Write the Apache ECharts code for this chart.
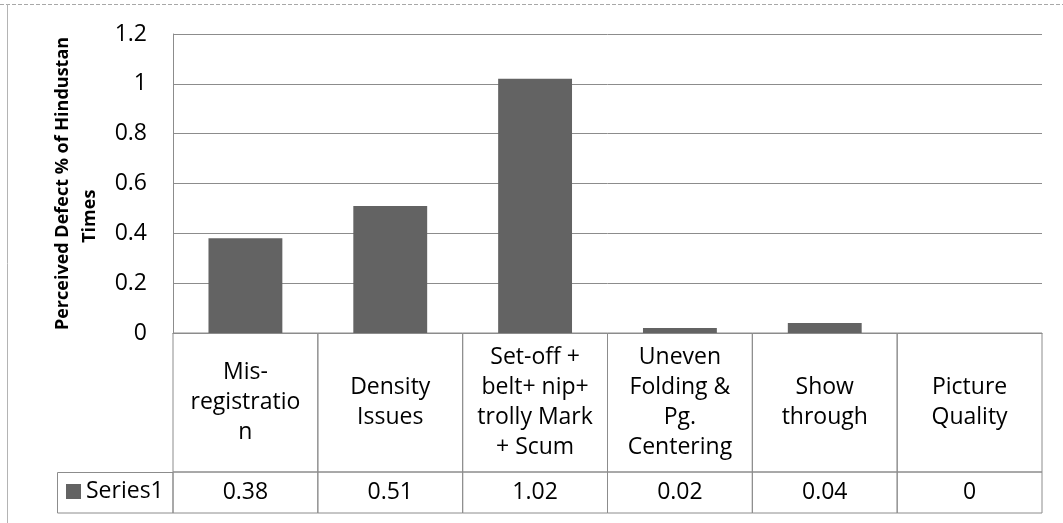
<!DOCTYPE html>
<html><head><meta charset="utf-8">
<script src="https://cdn.jsdelivr.net/npm/echarts@6/dist/echarts.min.js"></script>
<style>html,body{margin:0;padding:0;background:#fff}#c{width:1063px;height:523px}</style>
</head><body><div id="c"></div>
<script>
// ---- data ----
const categories = ['Mis-\nregistratio\nn', 'Density\nIssues', 'Set-off +\nbelt+ nip+\ntrolly Mark\n+ Scum', 'Uneven\nFolding &\nPg.\nCentering', 'Show\nthrough', 'Picture\nQuality'];
const series1 = [0.38, 0.51, 1.02, 0.02, 0.04, 0];
const seriesName = 'Series1';
const yMin = 0, yMax = 1.2, yStep = 0.2;
const axisTitleLines = ['Perceived Defect % of Hindustan', 'Times'];

// ---- style ----
const FONT = 'Open Sans';
const LINE = '#8c8c8c';
const BAR = '#636363';

const chart = echarts.init(document.getElementById('c'), null, {renderer: 'canvas'});

function cellRenderer(texts) {
  return function (params, api) {
    const cs = params.coordSys;
    const i = params.dataIndex;
    const c = api.coord([i, 0]);
    const w = api.size([1, 0])[0];
    return {
      type: 'group',
      children: [
        {type: 'rect', shape: {x: c[0] - w / 2, y: cs.y, width: w, height: cs.height},
         style: {fill: 'transparent', stroke: LINE, lineWidth: 1}},
        {type: 'text', style: {text: String(texts[i]), x: c[0], y: cs.y + cs.height / 2,
         align: 'center', verticalAlign: 'middle', fontSize: 23, fontFamily: FONT, lineHeight: 30, fill: '#000'}}
      ]
    };
  };
}

const grids = [
  {left: 173, right: 21, top: 34, bottom: 190},
  {left: 173, right: 21, top: 333, bottom: 51},
  {left: 173, right: 21, top: 472, bottom: 10}
];

chart.setOption({
  animation: false,
  backgroundColor: '#fff',
  grid: grids,
  legend: {
    data: [seriesName], left: 66, top: 480, padding: 0,
    icon: 'rect', itemWidth: 15, itemHeight: 15, itemGap: 6,
    textStyle: {fontSize: 23, fontFamily: FONT, color: '#000'}
  },
  xAxis: [
    {gridIndex: 0, type: 'category', data: categories, axisTick: {show: false}, axisLabel: {show: false},
     axisLine: {show: true, lineStyle: {color: LINE}}, splitLine: {show: false}},
    {gridIndex: 1, type: 'category', data: categories, show: false},
    {gridIndex: 2, type: 'category', data: categories, show: false}
  ],
  yAxis: [
    {gridIndex: 0, type: 'value', min: yMin, max: yMax, interval: yStep,
     axisLine: {show: true, lineStyle: {color: LINE}}, axisTick: {show: false},
     splitLine: {show: true, lineStyle: {color: LINE, width: 1}},
     axisLabel: {fontSize: 23, fontFamily: FONT, color: '#000', margin: 26},
     name: axisTitleLines[0] + '\n' + axisTitleLines[1] + '\u00a0'.repeat(14),
     nameLocation: 'middle', nameRotate: 90, nameGap: 68,
     nameTextStyle: {fontSize: 18, fontWeight: 'bold', fontFamily: FONT, color: '#000', lineHeight: 27}},
    {gridIndex: 1, type: 'value', min: 0, max: 1, show: false},
    {gridIndex: 2, type: 'value', min: 0, max: 1, show: false}
  ],
  series: [
    {name: seriesName, type: 'bar', xAxisIndex: 0, yAxisIndex: 0, data: series1,
     barWidth: '51%', itemStyle: {color: BAR}},
    {type: 'custom', xAxisIndex: 1, yAxisIndex: 1, data: categories.map((_, i) => [i, 0]),
     renderItem: cellRenderer(categories), silent: true},
    {type: 'custom', xAxisIndex: 2, yAxisIndex: 2, data: series1.map((_, i) => [i, 0]),
     renderItem: cellRenderer(series1), silent: true}
  ],
  graphic: [
    {type: 'line', shape: {x1: 0, y1: 4.5, x2: 1063, y2: 4.5}, style: {stroke: '#a8a8a8', lineWidth: 1, lineDash: [4, 2]}, silent: true},
    {type: 'line', shape: {x1: 7.5, y1: 4, x2: 7.5, y2: 523}, style: {stroke: '#b4b4b4', lineWidth: 1}, silent: true},
    {type: 'rect', shape: {x: 57.5, y: 472.5, width: 115.5, height: 40.5}, style: {fill: 'transparent', stroke: LINE, lineWidth: 1}, silent: true}
  ]
});
</script>
</body></html>
